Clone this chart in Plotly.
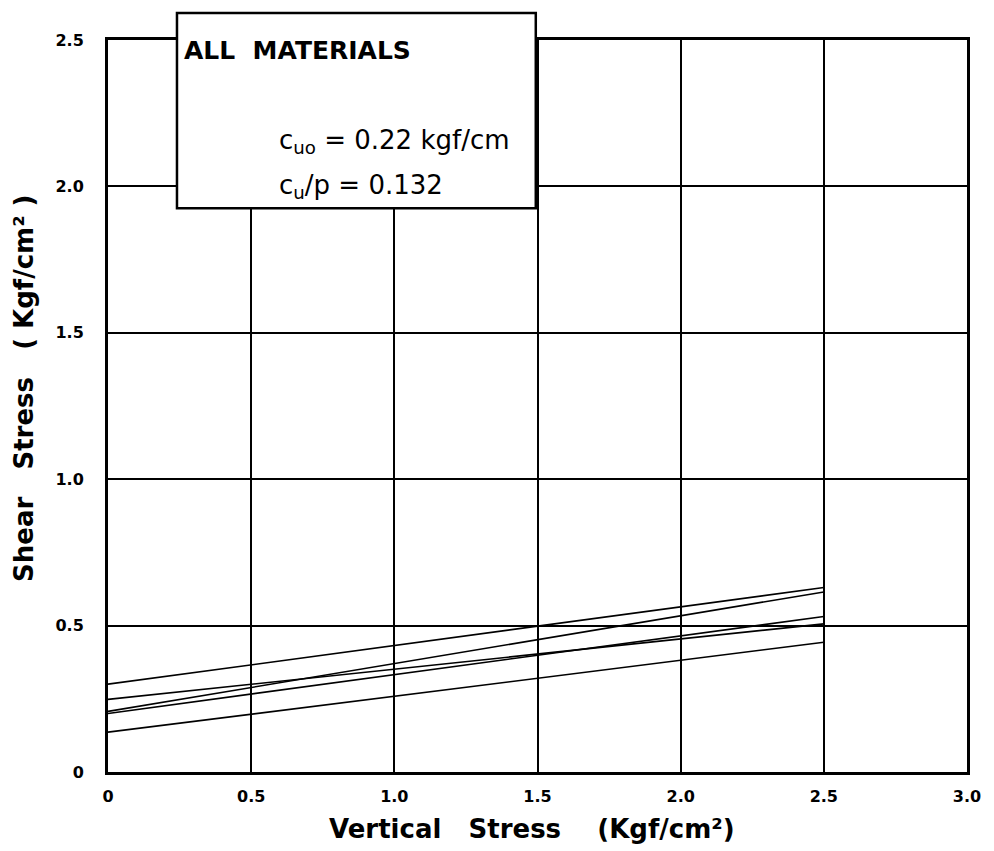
import plotly.graph_objects as go

# ---- data ----
x_ends = [0.0, 2.5]
line_a = [0.300, 0.630]
line_b = [0.207, 0.615]
line_c = [0.248, 0.506]
line_d = [0.200, 0.531]
line_e = [0.136, 0.443]
series = [line_a, line_b, line_c, line_d, line_e]

x_tickvals = [0, 0.5, 1.0, 1.5, 2.0, 2.5, 3.0]
x_ticktext = ["0", "0.5", "1.0", "1.5", "2.0", "2.5", "3.0"]
y_tickvals = [0, 0.5, 1.0, 1.5, 2.0, 2.5]
y_ticktext = ["0", "0.5", "1.0", "1.5", "2.0", "2.5"]

title_box = "ALL  MATERIALS"
line1 = "c<sub>uo</sub> = 0.22 kgf/cm"
line2 = "c<sub>u</sub>/p = 0.132"
x_title = "Vertical   Stress    (Kgf/cm²)"
y_title = "Shear   Stress   ( Kgf/cm² )"

FONT = "DejaVu Sans"

fig = go.Figure()
for ys in series:
    fig.add_trace(go.Scatter(x=x_ends, y=ys, mode="lines",
                             line=dict(color="black", width=1.6),
                             showlegend=False, hoverinfo="skip"))

axis_common = dict(
    showgrid=True, gridcolor="black", gridwidth=2,
    showline=True, linecolor="black", linewidth=3, mirror=True,
    zeroline=False, ticks="",
    tickfont=dict(family=FONT, size=16, color="black", weight="bold"),
)

fig.update_xaxes(range=[0, 3.0], tickvals=x_tickvals, ticktext=x_ticktext,
                 ticklabelstandoff=8, **axis_common)
fig.update_yaxes(range=[0, 2.5], tickvals=y_tickvals, ticktext=y_ticktext,
                 ticklabelstandoff=18, **axis_common)

fig.add_shape(type="rect", xref="paper", yref="paper",
              x0=0.0803, x1=0.498, y0=0.770, y1=1.037,
              fillcolor="white", line=dict(color="black", width=2.5),
              layer="above")

anns = [
    dict(text=title_box, x=0.0861, y=0.985, xanchor="left", yanchor="middle",
         font=dict(family=FONT, size=25, color="black", weight="bold")),
    dict(text=line1, x=0.1967, y=0.862, xanchor="left", yanchor="middle",
         font=dict(family=FONT, size=26, color="black")),
    dict(text=line2, x=0.1967, y=0.800, xanchor="left", yanchor="middle",
         font=dict(family=FONT, size=26, color="black")),
    dict(text=x_title, x=0.4936, y=-0.078, xanchor="center", yanchor="middle",
         font=dict(family=FONT, size=26, color="black", weight="bold")),
    dict(text=y_title, x=-0.0978, y=0.5246, xanchor="center", yanchor="middle",
         textangle=-90,
         font=dict(family=FONT, size=26, color="black", weight="bold")),
]
for a in anns:
    fig.add_annotation(xref="paper", yref="paper", showarrow=False, **a)

# page body has an 8px default margin, so the figure is offset accordingly
fig.update_layout(
    width=986, height=843,
    margin=dict(l=100, r=27, t=32, b=79),
    paper_bgcolor="white", plot_bgcolor="white",
)

fig.write_html("out.html")
